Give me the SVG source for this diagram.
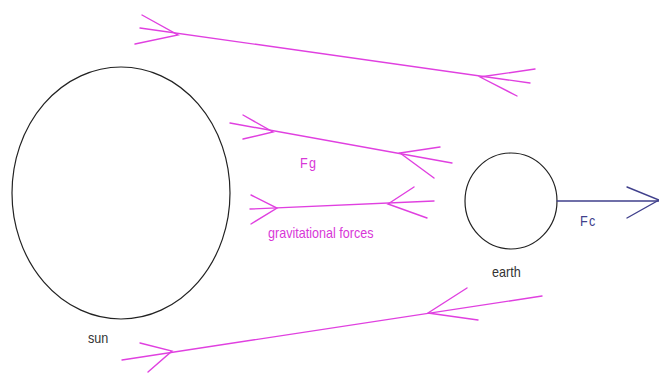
<svg xmlns="http://www.w3.org/2000/svg" width="659" height="373" viewBox="0 0 659 373">
<style>
.body{fill:none;stroke:#222;stroke-width:1.2}
.fg{fill:none;stroke:#e040e0;stroke-width:1.4;stroke-linecap:round}
.fc{fill:none;stroke:#40408c;stroke-width:1.4;stroke-linecap:round}
.lbl{font-family:"Liberation Sans",Arial,sans-serif;font-size:14px}
.dark{fill:#333}
.mag{fill:#d838d8}
.blue{fill:#40408c}
</style>
<rect width="659" height="373" fill="#fff"/>
<g id="sun">
<ellipse class="body" cx="121" cy="193" rx="109" ry="126"/>
<text class="lbl dark" transform="translate(88,343) scale(0.9,1)">sun</text>
</g>
<g id="earth">
<ellipse class="body" cx="511" cy="201" rx="46" ry="48"/>
<text class="lbl dark" transform="translate(492,277) scale(0.9,1)">earth</text>
</g>
<g id="connectors">
<g id="top-force">
<path class="fg" d="M140,28 L530,83"/>
<path class="fg" d="M142,15 L178,35 L135,44"/>
<path class="fg" d="M535,69 L480,77 L517,96"/>
</g>
<g id="fg-force">
<path class="fg" d="M230,123 L452,163"/>
<path class="fg" d="M243,115 L273,132 L243,139"/>
<path class="fg" d="M440,147 L400,153 L434,178"/>
</g>
<g id="grav-force">
<path class="fg" d="M250,209 L434,201"/>
<path class="fg" d="M251,195 L277,208 L251,224"/>
<path class="fg" d="M414,187 L388,204 L427,218"/>
</g>
<g id="bottom-force">
<path class="fg" d="M122,360 L542,296"/>
<path class="fg" d="M140,343 L172,351 L148,372"/>
<path class="fg" d="M467,288 L428,313 L478,320"/>
</g>
<g id="fc-force">
<path class="fc" d="M557,201 L659,201"/>
<path class="fc" d="M627,187 L659,200 L627,218"/>
</g>
</g>
<g id="labels">
<text class="lbl mag" transform="translate(300,168) scale(0.9,1)" letter-spacing="1.5">Fg</text>
<text class="lbl mag" transform="translate(268,238) scale(0.9,1)">gravitational forces</text>
<text class="lbl blue" transform="translate(580,226) scale(0.9,1)" letter-spacing="1.5">Fc</text>
</g>
</svg>
